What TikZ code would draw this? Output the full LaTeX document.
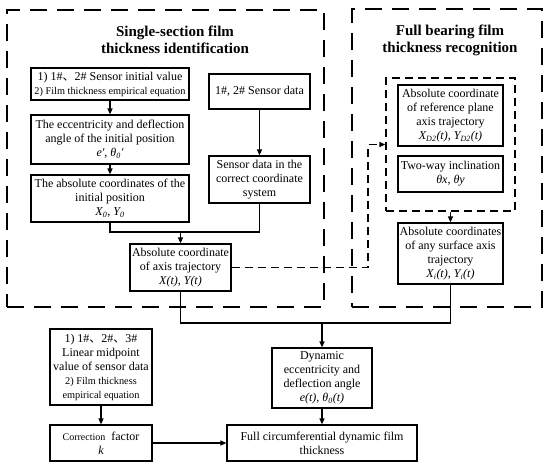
\documentclass[tikz,border=0pt]{standalone}
\usepackage{fontspec}
\setmainfont{Liberation Serif}
\newfontfamily\cjk{Noto Sans CJK SC}
\usetikzlibrary{arrows.meta}
\newcommand{\dun}{{\cjk 、}}
\begin{document}
\begin{tikzpicture}[x=1pt,y=-1pt,
  box/.style={draw, line width=1.2pt, align=center, inner sep=1pt,
    font=\fontsize{12}{14}\selectfont},
  outerdash/.style={draw, line width=1.5pt, dash pattern=on 17pt off 10pt},
  innerdash/.style={draw, line width=1.4pt, dash pattern=on 8pt off 5pt},
  conn/.style={line width=1.2pt},
  arr/.style={conn, -{Triangle[length=6pt,width=5pt]}},
  ttl/.style={align=center, font=\fontsize{15}{17}\selectfont\bfseries}]
\useasboundingbox (0,0) rectangle (550,467);
% outer dashed regions
\node[outerdash, minimum width=317pt, minimum height=297pt, inner sep=0pt] (left) at (165.5,158.5) {};
\node[outerdash, minimum width=190pt, minimum height=298pt, inner sep=0pt] (right) at (447,158) {};
\node[ttl] (t1) at (175,40) {Single-section film\\thickness identification};
\node[ttl] (t2) at (450,40) {Full bearing film\\thickness recognition};
\node[innerdash, minimum width=129pt, minimum height=133pt, inner sep=0pt] (inner) at (450.5,144.5) {};
% boxes
\node[box, minimum width=158pt, minimum height=32pt] (A) at (110,84)
  {1) 1\#\dun2\# Sensor initial value\\{\fontsize{10.3}{13}\selectfont 2) Film thickness empirical equation}};
\node[box, minimum width=158pt, minimum height=49pt] (B) at (110,139.5)
  {The eccentricity and deflection\\angle of the initial position\\{\itshape e′}, {\itshape θ\textsubscript{0}′}};
\node[box, minimum width=158pt, minimum height=47pt] (C) at (110,198.5)
  {The absolute coordinates of the\\initial position\\{\itshape X\textsubscript{0}}, {\itshape Y\textsubscript{0}}};
\node[box, minimum width=101pt, minimum height=35pt] (D) at (259.5,91.5)
  {1\#, 2\# Sensor data};
\node[box, minimum width=101pt, minimum height=47pt] (E) at (259.5,179.5)
  {Sensor data in the\\correct coordinate\\system};
\node[box, minimum width=101pt, minimum height=47pt] (F) at (180.5,267.5)
  {Absolute coordinate\\of axis trajectory\\{\itshape X(t)}, {\itshape Y(t)}};
\node[box, minimum width=105pt, minimum height=61pt] (G) at (450.5,115.5)
  {Absolute coordinate\\of reference plane\\axis trajectory\\{\itshape X\textsubscript{D2}(t)}, {\itshape Y\textsubscript{D2}(t)}};
\node[box, minimum width=105pt, minimum height=36pt] (H) at (450.5,174)
  {Two-way inclination\\{\itshape θx}, {\itshape θy}};
\node[box, minimum width=105pt, minimum height=61pt] (I) at (450.5,253.5)
  {Absolute coordinates\\of any surface axis\\trajectory\\{\itshape X\textsubscript{i}(t)}, {\itshape Y\textsubscript{i}(t)}};
\node[box, minimum width=100pt, minimum height=60pt] (J) at (322,378)
  {Dynamic\\eccentricity and\\deflection angle\\{\itshape e(t)}, {\itshape θ\textsubscript{0}(t)}};
\node[box, minimum width=190pt, minimum height=36pt] (K) at (322,443)
  {Full circumferential dynamic film\\thickness};
\node[box, minimum width=102pt, minimum height=76pt] (L) at (101,367)
  {1) 1\#\dun2\#\dun3\#\\Linear midpoint\\value of sensor data\\{\fontsize{10.3}{12}\selectfont 2) Film thickness}\\{\fontsize{10.3}{13}\selectfont empirical equation}};
\node[box, minimum width=102pt, minimum height=36pt] (M) at (101,443)
  {{\fontsize{10}{13}\selectfont Correction}\ \ factor\\{\itshape k}};
% connectors
\draw[arr] (A) -- (B);
\draw[arr] (B) -- (C);
\draw[arr] (D) -- (E);
\coordinate (j1) at (180.5,232);
\draw[conn] (C.south) |- (j1) -| (E.south);
\draw[arr] (j1) -- (F.north);
\coordinate (q1) at (368,144.5);
\draw[line width=1.4pt, dash pattern=on 8pt off 5pt, -{Triangle[length=6pt,width=5pt]}] (F.east) -| (q1) -- (inner.west);
\draw[arr] (inner.south) -- (I.north);
\coordinate (j2) at (322,323);
\draw[conn] (F.south) |- (j2) -| (I.south);
\draw[arr] (j2) -- (J.north);
\draw[arr] (J) -- (K);
\draw[arr] (L) -- (M);
\draw[arr] (M) -- (K);
\end{tikzpicture}
\end{document}
